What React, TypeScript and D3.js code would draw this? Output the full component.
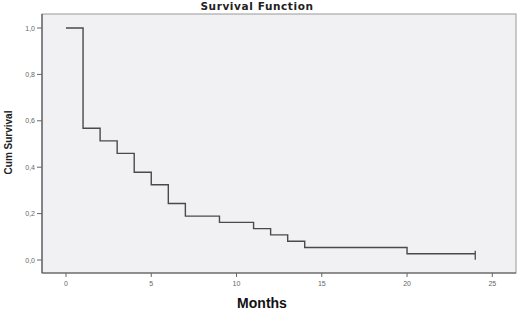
import React from "react";
import * as d3 from "d3";

const times = [0, 1, 2, 3, 4, 5, 6, 7, 9, 11, 12, 13, 14, 20];
const survival = [1.0, 21 / 37, 19 / 37, 17 / 37, 14 / 37, 12 / 37, 9 / 37, 7 / 37, 6 / 37, 5 / 37, 4 / 37, 3 / 37, 2 / 37, 1 / 37];
const endTime = 24;
const censorTimes = [24];
const xTicks = [0, 5, 10, 15, 20, 25];
const yTicks = [0, 0.2, 0.4, 0.6, 0.8, 1.0];

export default function App() {
  const W = 520, H = 312;
  const frame = { left: 42, right: 516, top: 14, bottom: 273 };
  const x = d3.scaleLinear().domain([0, 25]).range([66, 492.3]);
  const y = d3.scaleLinear().domain([0, 1]).range([260, 28]);

  const pts: [number, number][] = times.map((t, i) => [t, survival[i]]);
  pts.push([endTime, survival[survival.length - 1]]);
  const line = d3.line<[number, number]>().x(d => x(d[0])).y(d => y(d[1])).curve(d3.curveStepAfter);

  const fmt = (v: number) => v.toFixed(1).replace(".", ",");
  const lastS = survival[survival.length - 1];

  return (
    <svg width={W} height={H} style={{ position: "absolute", left: 0, top: 0, background: "#fff" }}>
      <rect x={frame.left} y={frame.top} width={frame.right - frame.left} height={frame.bottom - frame.top} fill="#f1f1f3" stroke="#9a9a9a" strokeWidth={1} />
      <line x1={frame.left} x2={frame.left} y1={frame.top} y2={frame.bottom} stroke="#555" strokeWidth={1.2} />
      <line x1={frame.left} x2={frame.right} y1={frame.bottom} y2={frame.bottom} stroke="#555" strokeWidth={1.2} />
      <text x={257} y={10} textAnchor="middle" fontFamily="DejaVu Sans, sans-serif" fontWeight="bold" fontSize={10.5} letterSpacing={0.6} fill="#222">Survival Function</text>
      {yTicks.map(v => (
        <g key={"y" + v}>
          <line x1={frame.left - 5} x2={frame.left} y1={y(v)} y2={y(v)} stroke="#666" />
          <text x={frame.left - 7} y={y(v) + 2.5} textAnchor="end" fontFamily="Liberation Sans, Arial, sans-serif" fontSize={7} fill="#666">{fmt(v)}</text>
        </g>
      ))}
      {xTicks.map(v => (
        <g key={"x" + v}>
          <line x1={x(v)} x2={x(v)} y1={frame.bottom} y2={frame.bottom + 4} stroke="#666" />
          <text x={x(v)} y={frame.bottom + 13} textAnchor="middle" fontFamily="Liberation Sans, Arial, sans-serif" fontSize={7} fill="#666">{v}</text>
        </g>
      ))}
      <path d={line(pts) || ""} fill="none" stroke="#4a4a4a" strokeWidth={1.4} />
      {censorTimes.map(t => (
        <line key={"c" + t} x1={x(t)} x2={x(t)} y1={y(lastS) - 3} y2={y(lastS) + 6} stroke="#4a4a4a" strokeWidth={1.3} />
      ))}
      <text transform={`translate(11.5,142.5) rotate(-90)`} textAnchor="middle" fontFamily="Liberation Sans, Arial, sans-serif" fontWeight="bold" fontSize={10} fill="#222">Cum Survival</text>
      <text x={262} y={308} textAnchor="middle" fontFamily="Liberation Sans, Arial, sans-serif" fontWeight="bold" fontSize={14} fill="#111">Months</text>
    </svg>
  );
}
